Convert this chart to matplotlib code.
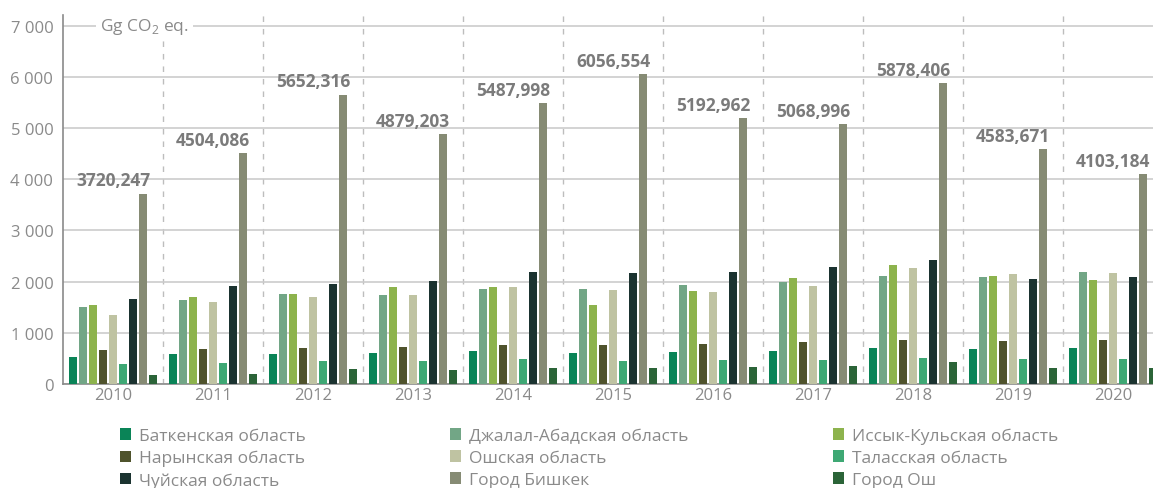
import numpy as np
import matplotlib
matplotlib.use('Agg')
from matplotlib import pyplot as plt

years = ['2010', '2011', '2012', '2013', '2014', '2015', '2016', '2017', '2018', '2019', '2020']

regions = ['Баткенская область', 'Джалал-Абадская область', 'Иссык-Кульская область',
           'Нарынская область', 'Ошская область', 'Таласская область',
           'Чуйская область', 'Город Бишкек', 'Город Ош']

batken = [527, 586, 586, 605, 644, 605, 625, 644, 703, 684, 703]
jalal_abad = [1504, 1641, 1758, 1738, 1855, 1855, 1933, 1992, 2109, 2090, 2187]
issyk_kul = [1543, 1699, 1758, 1894, 1894, 1543, 1816, 2070, 2324, 2109, 2031]
naryn = [664, 684, 703, 723, 762, 762, 781, 820, 859, 840, 859]
osh_obl = [1348, 1601, 1699, 1738, 1894, 1836, 1797, 1914, 2265, 2148, 2168]
talas = [391, 410, 449, 449, 488, 449, 469, 469, 508, 488, 488]
chui = [1660, 1914, 1953, 2012, 2187, 2168, 2187, 2285, 2422, 2051, 2090]
bishkek = [3720.247, 4504.086, 5652.316, 4879.203, 5487.998, 6056.554,
           5192.962, 5068.996, 5878.406, 4583.671, 4103.184]
osh_city = [176, 195, 293, 273, 312, 312, 332, 352, 430, 312, 312]

series = [batken, jalal_abad, issyk_kul, naryn, osh_obl, talas, chui, bishkek, osh_city]
colors = ['#0a8457', '#72a686', '#8db34d', '#4f532c', '#bfc3a2',
          '#3ea874', '#1b3330', '#868b74', '#2b6438']

yticks = [0, 1000, 2000, 3000, 4000, 5000, 6000, 7000]

plt.rcParams['font.family'] = ['Open Sans', 'DejaVu Sans']

W, H = 1153, 489
fig = plt.figure(figsize=(W / 100, H / 100), dpi=100)
ax = fig.add_axes([63 / W, (H - 385) / H, 1100 / W, 368.6 / H])

x = np.arange(len(years))
handles = []
for j, (vals, c) in enumerate(zip(series, colors)):
    b = ax.bar(x + (j - 4) * 0.1, vals, width=0.08, color=c, zorder=3, label=regions[j])
    handles.append(b)

# totals for Bishkek above bars
for i, v in enumerate(bishkek):
    ax.annotate(f'{v:.3f}'.replace('.', ','), (x[i], v), xytext=(0, 3),
                textcoords='offset points', ha='center', va='bottom',
                fontsize=12.5, fontweight='bold', color='#7b7b7b')

ax.set_xlim(-0.5, 10.5)
ax.set_ylim(0, 7200)
ax.set_yticks(yticks)
ax.set_yticklabels([f'{t:,}'.replace(',', ' ') for t in yticks])
ax.set_xticks(x)
ax.set_xticklabels(years)
ax.tick_params(axis='both', length=0, labelsize=12, labelcolor='#8a8a8a')
ax.tick_params(axis='y', pad=7)
ax.tick_params(axis='x', pad=2)

ax.grid(axis='y', color='#cccccc', linewidth=1.2, zorder=0)
for b in np.arange(0.5, 10.5, 1):
    ax.axvline(b, color='#bdbdbd', linestyle=(0, (4, 5)), linewidth=1, zorder=1)

for s in ['top', 'right']:
    ax.spines[s].set_visible(False)
ax.spines['left'].set_color('#8a8a8a')
ax.spines['bottom'].set_color('#8a8a8a')
ax.spines['left'].set_linewidth(1.2)
ax.spines['bottom'].set_linewidth(1.2)

ax.text(-0.13, 7000, 'Gg CO$_\\mathregular{2}$ eq.', ha='left', va='center',
        fontsize=12.5, color='#8a8a8a', zorder=2,
        bbox=dict(facecolor='white', edgecolor='none', pad=3))

order = [0, 3, 6, 1, 4, 7, 2, 5, 8]
leg = fig.legend([handles[k] for k in order], [regions[k] for k in order],
                 ncol=3, loc='upper left', bbox_to_anchor=(120 / W, 1 - 429 / H),
                 frameon=False, fontsize=12.5, handlelength=0.65, handleheight=0.65,
                 handletextpad=0.45, columnspacing=8.3, labelspacing=0.33,
                 borderpad=0, borderaxespad=0, labelcolor='#8a8a8a')

fig.savefig('out.png', dpi=100)
